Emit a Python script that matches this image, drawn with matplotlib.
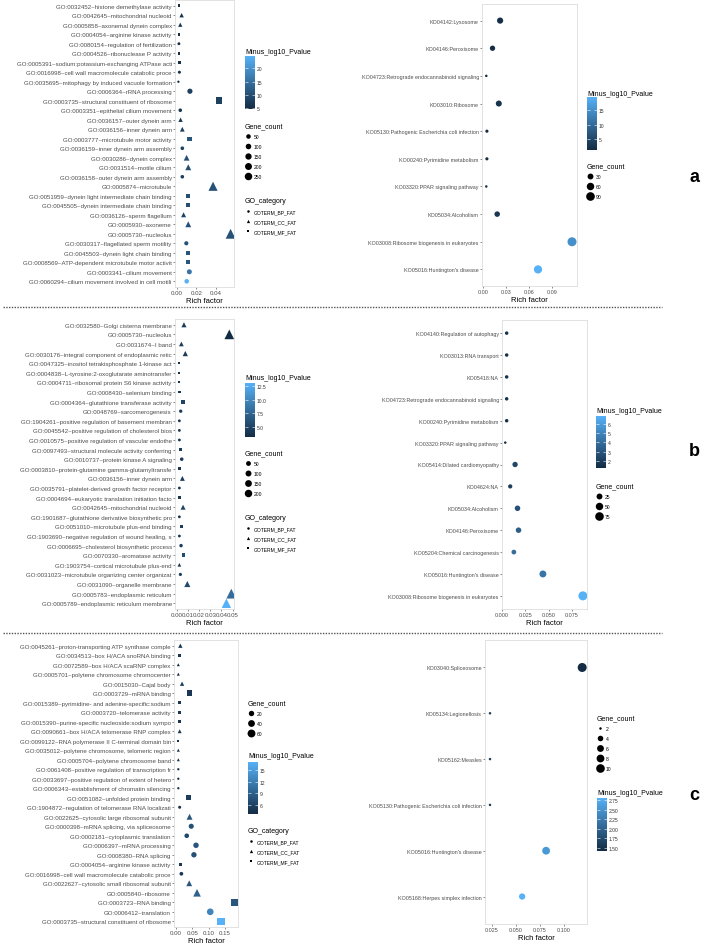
import numpy as np
import matplotlib
matplotlib.use("Agg")
import matplotlib.pyplot as plt
from matplotlib.colors import LinearSegmentedColormap, Normalize
from matplotlib.cm import ScalarMappable
from matplotlib.lines import Line2D

plt.rcParams['font.family'] = ['Liberation Sans', 'DejaVu Sans']

# ---------------- panel a : GO ----------------
a_go_terms = [
    "GO:0032452~histone demethylase activity",
    "GO:0042645~mitochondrial nucleoid",
    "GO:0005858~axonemal dynein complex",
    "GO:0004054~arginine kinase activity",
    "GO:0080154~regulation of fertilization",
    "GO:0004526~ribonuclease P activity",
    "GO:0005391~sodium:potassium-exchanging ATPase acti",
    "GO:0016998~cell wall macromolecule catabolic proce",
    "GO:0035695~mitophagy by induced vacuole formation",
    "GO:0006364~rRNA processing",
    "GO:0003735~structural constituent of ribosome",
    "GO:0003351~epithelial cilium movement",
    "GO:0036157~outer dynein arm",
    "GO:0036156~inner dynein arm",
    "GO:0003777~microtubule motor activity",
    "GO:0036159~inner dynein arm assembly",
    "GO:0030286~dynein complex",
    "GO:0031514~motile cilium",
    "GO:0036158~outer dynein arm assembly",
    "GO:0005874~microtubule",
    "GO:0051959~dynein light intermediate chain binding",
    "GO:0045505~dynein intermediate chain binding",
    "GO:0036126~sperm flagellum",
    "GO:0005930~axoneme",
    "GO:0005730~nucleolus",
    "GO:0030317~flagellated sperm motility",
    "GO:0045503~dynein light chain binding",
    "GO:0008569~ATP-dependent microtubule motor activit",
    "GO:0003341~cilium movement",
    "GO:0060294~cilium movement involved in cell motili",
]
a_go_cat = ['MF', 'CC', 'CC', 'MF', 'BP', 'MF', 'MF', 'BP', 'BP', 'BP',
            'MF', 'BP', 'CC', 'CC', 'MF', 'BP', 'CC', 'CC', 'BP', 'CC',
            'MF', 'MF', 'CC', 'CC', 'CC', 'BP', 'MF', 'MF', 'BP', 'BP']
a_go_rich = [0.002, 0.0048, 0.0034, 0.002, 0.002, 0.002, 0.003, 0.0025, 0.0015, 0.0133,
             0.043, 0.0034, 0.0037, 0.0055, 0.0127, 0.0055, 0.0099, 0.0116, 0.0055, 0.037,
             0.0116, 0.0116, 0.0068, 0.0116, 0.055, 0.0096, 0.0113, 0.0113, 0.0127, 0.010]
a_go_count = [8, 14, 12, 8, 6, 8, 10, 8, 3, 80,
              255, 18, 14, 20, 75, 20, 45, 50, 18, 210,
              60, 60, 25, 50, 260, 35, 60, 60, 70, 50]
a_go_pval = [5.5, 6, 6.5, 5.5, 5, 5.5, 5.5, 5.5, 4.8, 8,
             8, 6.5, 6.5, 7.5, 11, 8, 10, 10, 7.5, 10.5,
             10, 10, 8.5, 10.5, 10.5, 10.5, 11, 11, 15.5, 24.5]
a_go_size_breaks = [50, 100, 150, 200, 250]
a_go_p_ticks = [5, 10, 15, 20]

# ---------------- panel a : KEGG ----------------
a_kegg_terms = ["KO04142:Lysosome", "KO04146:Peroxisome",
                "KO04723:Retrograde endocannabinoid signaling", "KO03010:Ribosome",
                "KO05130:Pathogenic Escherichia coli infection", "KO00240:Pyrimidine metabolism",
                "KO03320:PPAR signaling pathway", "KO05034:Alcoholism",
                "KO03008:Ribosome biogenesis in eukaryotes", "KO05016:Huntington's disease"]
a_kegg_rich = [0.0223, 0.0124, 0.0043, 0.0206, 0.0051, 0.0051, 0.0043, 0.0185, 0.116, 0.0717]
a_kegg_count = [35, 22, 4, 32, 5, 5, 4, 25, 100, 78]
a_kegg_pval = [2.0, 1.8, 1.5, 2.5, 1.5, 1.5, 1.4, 3.0, 15.0, 19.5]
a_kegg_size_breaks = [30, 60, 90]
a_kegg_p_ticks = [5, 10, 15]

# ---------------- panel b : GO ----------------
b_go_terms = [
    "GO:0032580~Golgi cisterna membrane",
    "GO:0005730~nucleolus",
    "GO:0031674~I band",
    "GO:0030176~integral component of endoplasmic retic",
    "GO:0047325~inositol tetrakisphosphate 1-kinase act",
    "GO:0004838~L-tyrosine:2-oxoglutarate aminotransfer",
    "GO:0004711~ribosomal protein S6 kinase activity",
    "GO:0008430~selenium binding",
    "GO:0004364~glutathione transferase activity",
    "GO:0048769~sarcomerogenesis",
    "GO:1904261~positive regulation of basement membran",
    "GO:0045542~positive regulation of cholesterol bios",
    "GO:0010575~positive regulation of vascular endothe",
    "GO:0097493~structural molecule activity conferring",
    "GO:0010737~protein kinase A signaling",
    "GO:0003810~protein-glutamine gamma-glutamyltransfe",
    "GO:0036156~inner dynein arm",
    "GO:0035791~platelet-derived growth factor receptor",
    "GO:0004694~eukaryotic translation initiation facto",
    "GO:0042645~mitochondrial nucleoid",
    "GO:1901687~glutathione derivative biosynthetic pro",
    "GO:0051010~microtubule plus-end binding",
    "GO:1903690~negative regulation of wound healing, s",
    "GO:0006695~cholesterol biosynthetic process",
    "GO:0070330~aromatase activity",
    "GO:1903754~cortical microtubule plus-end",
    "GO:0031023~microtubule organizing center organizat",
    "GO:0031090~organelle membrane",
    "GO:0005783~endoplasmic reticulum",
    "GO:0005789~endoplasmic reticulum membrane",
]
b_go_cat = ['CC', 'CC', 'CC', 'CC', 'MF', 'MF', 'MF', 'MF', 'MF', 'BP',
            'BP', 'BP', 'BP', 'MF', 'BP', 'MF', 'CC', 'BP', 'MF', 'CC',
            'BP', 'MF', 'BP', 'BP', 'MF', 'CC', 'BP', 'CC', 'CC', 'CC']
b_go_rich = [0.0065, 0.047, 0.0042, 0.0077, 0.0018, 0.0018, 0.0018, 0.0024, 0.0054, 0.0036,
             0.0024, 0.0024, 0.0024, 0.0036, 0.0045, 0.0027, 0.0051, 0.0024, 0.0024, 0.0057,
             0.0024, 0.0042, 0.0024, 0.0039, 0.006, 0.0024, 0.0033, 0.0095, 0.0488, 0.0444]
b_go_count = [22, 200, 15, 25, 2, 2, 2, 8, 35, 10,
              4, 4, 4, 12, 14, 8, 18, 4, 8, 20,
              4, 12, 4, 12, 30, 4, 8, 45, 210, 185]
b_go_pval = [4.5, 3.2, 4.5, 4.5, 3.5, 3.5, 3.5, 4, 5, 4.5,
             4, 4, 4, 4.5, 4.5, 4, 4.5, 4, 4, 5,
             4, 4.5, 4, 4.5, 5.5, 4, 4.5, 5.5, 8, 13]
b_go_size_breaks = [50, 100, 150, 200]
b_go_p_ticks = [5.0, 7.5, 10.0, 12.5]

# ---------------- panel b : KEGG ----------------
b_kegg_terms = ["KO04140:Regulation of autophagy", "KO03013:RNA transport", "KO05418:NA",
                "KO04723:Retrograde endocannabinoid signaling", "KO00240:Pyrimidine metabolism",
                "KO03320:PPAR signaling pathway", "KO05414:Dilated cardiomyopathy", "KO04624:NA",
                "KO05034:Alcoholism", "KO04146:Peroxisome", "KO05204:Chemical carcinogenesis",
                "KO05016:Huntington's disease", "KO03008:Ribosome biogenesis in eukaryotes"]
b_kegg_rich = [0.005, 0.005, 0.005, 0.005, 0.005, 0.0035, 0.014, 0.0088, 0.0166, 0.0177,
               0.0127, 0.0438, 0.0866]
b_kegg_count = [4, 4, 4, 4, 4, 2, 18, 8, 20, 20, 12, 40, 85]
b_kegg_pval = [1.5, 1.5, 1.5, 1.5, 1.5, 1.2, 2.4, 2.0, 2.8, 3.4, 4.0, 4.3, 6.9]
b_kegg_size_breaks = [25, 50, 75]
b_kegg_p_ticks = [2, 3, 4, 5, 6]

# ---------------- panel c : GO ----------------
c_go_terms = [
    "GO:0045261~proton-transporting ATP synthase comple",
    "GO:0034513~box H/ACA snoRNA binding",
    "GO:0072589~box H/ACA scaRNP complex",
    "GO:0005701~polytene chromosome chromocenter",
    "GO:0015030~Cajal body",
    "GO:0003729~mRNA binding",
    "GO:0015389~pyrimidine- and adenine-specific:sodium",
    "GO:0003720~telomerase activity",
    "GO:0015390~purine-specific nucleoside:sodium sympo",
    "GO:0090661~box H/ACA telomerase RNP complex",
    "GO:0099122~RNA polymerase II C-terminal domain bin",
    "GO:0035012~polytene chromosome, telomeric region",
    "GO:0005704~polytene chromosome band",
    "GO:0061408~positive regulation of transcription fr",
    "GO:0033697~positive regulation of extent of hetero",
    "GO:0006343~establishment of chromatin silencing",
    "GO:0051082~unfolded protein binding",
    "GO:1904872~regulation of telomerase RNA localizati",
    "GO:0022625~cytosolic large ribosomal subunit",
    "GO:0000398~mRNA splicing, via spliceosome",
    "GO:0002181~cytoplasmic translation",
    "GO:0006397~mRNA processing",
    "GO:0008380~RNA splicing",
    "GO:0004054~arginine kinase activity",
    "GO:0016998~cell wall macromolecule catabolic proce",
    "GO:0022627~cytosolic small ribosomal subunit",
    "GO:0005840~ribosome",
    "GO:0003723~RNA binding",
    "GO:0006412~translation",
    "GO:0003735~structural constituent of ribosome",
]
c_go_cat = ['CC', 'MF', 'CC', 'CC', 'CC', 'MF', 'MF', 'MF', 'MF', 'CC',
            'MF', 'CC', 'CC', 'BP', 'BP', 'BP', 'MF', 'BP', 'CC', 'BP',
            'BP', 'BP', 'BP', 'MF', 'BP', 'CC', 'CC', 'MF', 'BP', 'MF']
c_go_rich = [0.0134, 0.0103, 0.0072, 0.0072, 0.0187, 0.0416, 0.0103, 0.0103, 0.0103, 0.0113,
             0.0072, 0.0072, 0.0072, 0.0072, 0.0072, 0.0072, 0.0385, 0.0113, 0.0416, 0.0468,
             0.033, 0.0614, 0.055, 0.0145, 0.0166, 0.0406, 0.0645, 0.18, 0.105, 0.138]
c_go_count = [4, 4, 2, 2, 4, 32, 4, 4, 4, 3,
              2, 2, 2, 2, 2, 2, 28, 3, 12, 17,
              12, 21, 20, 5, 6, 11, 26, 72, 38, 64]
c_go_pval = [5, 5, 3.7, 3.7, 5.5, 5, 5, 5, 5, 5,
             4, 4, 4, 4, 4, 4, 5.5, 4.5, 8, 7.5,
             6.5, 8, 7.5, 5, 5, 8, 9, 8, 12.5, 17]
c_go_size_breaks = [20, 40, 60]
c_go_p_ticks = [6, 9, 12, 15]

# ---------------- panel c : KEGG ----------------
c_kegg_terms = ["KO03040:Spliceosome", "KO05134:Legionellosis", "KO05162:Measles",
                "KO05130:Pathogenic Escherichia coli infection", "KO05016:Huntington's disease",
                "KO05168:Herpes simplex infection"]
c_kegg_rich = [0.119, 0.0232, 0.0232, 0.0232, 0.0815, 0.0566]
c_kegg_count = [11, 2, 2, 2, 8, 5]
c_kegg_pval = [1.42, 1.6, 1.6, 1.6, 2.55, 2.8]
c_kegg_size_breaks = [2, 4, 6, 8, 10]
c_kegg_p_ticks = [1.50, 1.75, 2.00, 2.25, 2.50, 2.75]


W, H = 706, 945
fig = plt.figure(figsize=(W / 100, H / 100), dpi=100)
fig.patch.set_facecolor('white')

cmap = LinearSegmentedColormap.from_list('gg', ['#132B43', '#56B1F7'])
shapes = {'BP': ('o', 1.0), 'CC': ('^', 1.3), 'MF': ('s', 0.88)}
GREY = '#4D4D4D'
SMALL_D = (2.3, 7.6)   # point diameter range (px) for GO panels
BIG_D = (2.5, 9.0)     # for KEGG panels


def fig_box(x0, y0, x1, y1):
    return [x0 / W, 1 - y1 / H, (x1 - x0) / W, (y1 - y0) / H]


def diam(count, lim, drange):
    t = (np.asarray(count, float) - lim[0]) / (lim[1] - lim[0])
    d = drange[0] + (drange[1] - drange[0]) * np.sqrt(np.clip(t, 0, 1))
    return d * 0.72   # px -> points


def dot_panel(box, terms, rich, count, pval, cats, xlim, xticks, fmt, drange, fs):
    ax = fig.add_axes(fig_box(*box))
    n = len(terms)
    ypos = np.arange(n)[::-1]
    rich = np.asarray(rich)
    pval = np.asarray(pval)
    cats = np.asarray(cats)
    size_lim = (min(count), max(count))
    d = diam(count, size_lim, drange)
    norm = Normalize(min(pval), max(pval))
    for cat, (mk, k) in shapes.items():
        sel = cats == cat
        if sel.any():
            ax.scatter(rich[sel], ypos[sel], s=(d[sel] * k) ** 2, c=pval[sel], cmap=cmap,
                       norm=norm, marker=mk, linewidths=0, zorder=3)
    ax.set_ylim(-0.6, n - 0.4)
    ax.set_xlim(*xlim)
    ax.set_yticks(ypos)
    ax.set_yticklabels(terms, fontsize=fs, color=GREY)
    ax.set_xticks(xticks)
    ax.set_xticklabels([fmt.format(t) for t in xticks], fontsize=fs, color=GREY)
    ax.tick_params(length=1.5, width=0.4, color='#333333', pad=0.8)
    for sp in ax.spines.values():
        sp.set_color('#DDDDDD')
        sp.set_linewidth(0.6)
    ax.set_xlabel('Rich factor', fontsize=5.5, labelpad=1.2)
    return size_lim, norm


def pval_bar(x, y0, y1, title_y, norm, ticks, fmt):
    cax = fig.add_axes(fig_box(x, y0, x + 10, y1))
    cb = fig.colorbar(ScalarMappable(norm=norm, cmap=cmap), cax=cax)
    cb.outline.set_visible(False)
    cb.set_ticks(ticks, labels=[fmt.format(t) for t in ticks])
    cax.tick_params(axis='y', direction='in', length=2, width=0.4, color='white',
                    labelsize=3.6, labelcolor='#333333', pad=1.5, left=True, right=True)
    fig.text(x / W, 1 - title_y / H, 'Minus_log10_Pvalue', fontsize=5, va='center', ha='left')


def size_legend(x, title_y, breaks, size_lim, drange):
    handles = [Line2D([], [], ls='none', marker='o', color='black', markeredgewidth=0,
                      markersize=float(diam(v, size_lim, drange)), label=str(v))
               for v in breaks]
    fig.legend(handles=handles, title='Gene_count', loc='upper left',
               bbox_to_anchor=(x / W, 1 - (title_y - 4) / H), frameon=False, fontsize=3.6,
               title_fontsize=5, alignment='left', borderpad=0, borderaxespad=0,
               handlelength=1.2, handletextpad=0.5, labelspacing=1.0)


def cat_legend(x, title_y):
    handles = [Line2D([], [], ls='none', marker=mk, color='black', markeredgewidth=0,
                      markersize=1.8 * k, label='GOTERM_%s_FAT' % c)
               for c, (mk, k) in shapes.items()]
    fig.legend(handles=handles, title='GO_category', loc='upper left',
               bbox_to_anchor=(x / W, 1 - (title_y - 4) / H), frameon=False, fontsize=3.6,
               title_fontsize=5, alignment='left', borderpad=0, borderaxespad=0,
               handlelength=1.2, handletextpad=0.5, labelspacing=1.0)


# panel a
lim, norm = dot_panel((175, 1, 234, 288), a_go_terms, a_go_rich, a_go_count, a_go_pval, a_go_cat,
                      (-0.002, 0.0585), [0, 0.02, 0.04], '{:.2f}', SMALL_D, 4.4)
pval_bar(245, 57, 110, 52, norm, a_go_p_ticks, '{:g}')
size_legend(245, 127, a_go_size_breaks, lim, SMALL_D)
cat_legend(245, 202)

lim, norm = dot_panel((482, 5, 577, 287), a_kegg_terms, a_kegg_rich, a_kegg_count, a_kegg_pval,
                      ['BP'] * len(a_kegg_terms), (-0.0013, 0.1225), [0, 0.03, 0.06, 0.09],
                      '{:.2f}', BIG_D, 3.9)
pval_bar(587, 98, 151, 94, norm, a_kegg_p_ticks, '{:g}')
size_legend(587, 167, a_kegg_size_breaks, lim, BIG_D)

# panel b
lim, norm = dot_panel((175, 320, 234, 610), b_go_terms, b_go_rich, b_go_count, b_go_pval, b_go_cat,
                      (-0.0015, 0.0512), [0, 0.01, 0.02, 0.03, 0.04, 0.05], '{:.2f}', SMALL_D, 4.4)
pval_bar(245, 384, 438, 379, norm, b_go_p_ticks, '{:.1f}')
size_legend(245, 454, b_go_size_breaks, lim, SMALL_D)
cat_legend(245, 519)

lim, norm = dot_panel((502, 321, 587, 610), b_kegg_terms, b_kegg_rich, b_kegg_count, b_kegg_pval,
                      ['BP'] * len(b_kegg_terms), (0.0, 0.091), [0, 0.025, 0.05, 0.075],
                      '{:.3f}', BIG_D, 3.9)
pval_bar(596, 417, 469, 412, norm, b_kegg_p_ticks, '{:g}')
size_legend(596, 487, b_kegg_size_breaks, lim, BIG_D)

# panel c
C_GO_D = (2.3, 8.4)
lim, norm = dot_panel((174, 641, 238, 928), c_go_terms, c_go_rich, c_go_count, c_go_pval, c_go_cat,
                      (-0.006, 0.19), [0, 0.05, 0.10, 0.15], '{:.2f}', C_GO_D, 4.4)
size_legend(248, 704, c_go_size_breaks, lim, C_GO_D)
pval_bar(248, 763, 815, 757, norm, c_go_p_ticks, '{:g}')
cat_legend(248, 832)

lim, norm = dot_panel((485, 641, 587, 925), c_kegg_terms, c_kegg_rich, c_kegg_count, c_kegg_pval,
                      ['BP'] * len(c_kegg_terms), (0.018, 0.124), [0.025, 0.05, 0.075, 0.1],
                      '{:.3f}', BIG_D, 3.9)
size_legend(597, 719, c_kegg_size_breaks, lim, BIG_D)
pval_bar(597, 799, 852, 794, norm, c_kegg_p_ticks, '{:.2f}')

# panel letters and dotted separators
for letter, ly in [('a', 178), ('b', 452), ('c', 796)]:
    fig.text(694 / W, 1 - ly / H, letter, fontsize=13, fontweight='bold', ha='center', va='center')
for sy in [308, 634]:
    fig.add_artist(Line2D([3 / W, 662 / W], [1 - sy / H] * 2, ls=(0, (1, 1)), color='#555555',
                          lw=1.0))

fig.savefig('out.png', dpi=100, facecolor='white')
